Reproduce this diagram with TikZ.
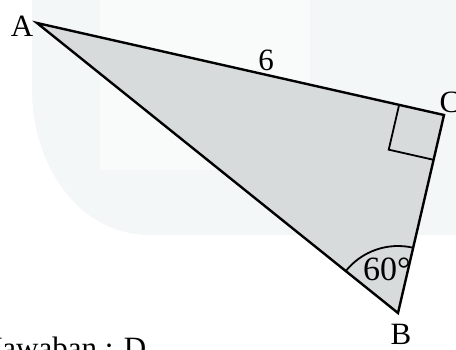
\documentclass[tikz,border=0pt]{standalone}
\usepackage{fontspec}
\setmainfont{Liberation Serif}
\usetikzlibrary{calc, angles, positioning}
\definecolor{TriFill}{HTML}{D8DBDB}
\definecolor{MarkBg}{HTML}{F4F7F7}

\begin{document}
\begin{tikzpicture}[x=0.5pt, y=-0.5pt,
        ptlabel/.style={inner sep=0pt, font=\fontsize{15.5}{18}\selectfont},
        anglabel/.style={inner sep=0pt, font=\fontsize{17}{20}\selectfont},
        edge/.style={line width=1.2pt, line join=miter},
        anglemark/.style={line width=0.9pt}]

        \useasboundingbox (0,0) rectangle (456,349);
        \fill[MarkBg] (32,0) -- (456,0) -- (456,235) -- (150,235) to[out=180, in=-90] (32,90) -- cycle;
        \fill[white!50!MarkBg] (100,0) rectangle (310,170);

        \coordinate (A) at (37,23);
        \coordinate (C) at (444,115);
        \coordinate (B) at (398,313);

        \fill[TriFill] (A) -- (C) -- (B) -- cycle;

        \coordinate (ca) at ($(C)!23pt!(A)$);
        \coordinate (cb) at ($(C)!23pt!(B)$);
        \draw[anglemark] (ca) -- ($(ca)+(cb)-(C)$) -- (cb);
        \pic[draw, anglemark, angle radius=33.5pt] {angle=C--B--A};

        \draw[edge] (A) -- (C) -- (B) -- cycle;

        \node[ptlabel] (labA) at (22,26) {A};
        \node[ptlabel] (labC) at (450,102) {C};
        \node[ptlabel] (labB) at (401,334) {B};
        \node[ptlabel] (side) at (266,60) {6};
        \node[anglabel] (ang) at (387,269) {60°};
        \node[ptlabel, anchor=base west] (answer) at (-10,358) {Jawaban : D};
\end{tikzpicture}
\end{document}
